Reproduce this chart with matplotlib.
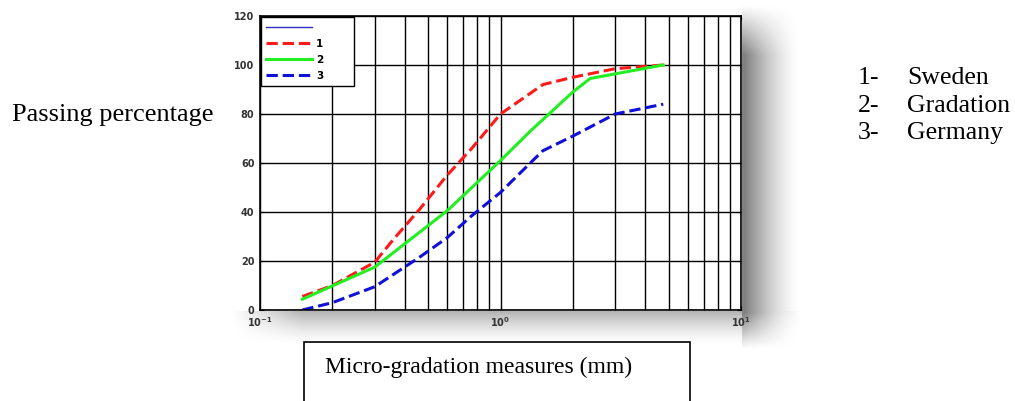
# Sieve curves of the micro-gradation: Sweden, gradation band and Germany
import matplotlib.pyplot as plt
from matplotlib.lines import Line2D
from matplotlib.patches import Rectangle
import numpy as np

# values (sieve size in mm, passing in %)
size_1 = [0.15, 0.2, 0.3, 0.36, 0.46, 0.6, 0.76, 1.0, 1.5, 2.0, 3.0, 4.75]
sweden = [5.5, 10, 19.5, 29, 41, 55, 66, 80, 92, 95, 98.5, 100]
size_2 = [0.15, 0.3, 0.6, 1.0, 1.33, 2.0, 2.36, 4.75]
gradation = [4.4, 17.5, 40.5, 61, 73, 89, 94.5, 100]
size_3 = [0.15, 0.2, 0.3, 0.46, 0.6, 0.76, 1.0, 1.33, 1.5, 2.0, 3.0, 4.75]
germany = [0, 3, 9.5, 21.5, 29.5, 38.5, 48, 60, 65, 71, 80, 84]
y_ticks = [0, 20, 40, 60, 80, 100, 120]
names = ["Sweden", "Gradation", "Germany"]

W, H = 1015, 401
fig = plt.figure(figsize=(W / 100, H / 100), dpi=100)

# soft grey shadow of the pasted picture (right of and below the plot)
bg = fig.add_axes([0, 0, 1, 1])
xx, yy = np.meshgrid(np.arange(W), np.arange(H), indexing='xy')
fx = np.clip(1 - (xx - 744) / 56.0, 0, 1) * (xx >= 742)
fy_top = np.clip((yy - 5) / 50.0, 0, 1)
fy_bot = np.clip(1 - (yy - 312) / 36.0, 0, 1)
right = 0.5 * fx ** 1.5 * fy_top * np.where(yy > 312, fy_bot, 1)
gy = np.clip(1 - (yy - 311) / 34.0, 0, 1) * (yy >= 311)
gx = np.clip((xx - 232) / 70.0, 0, 1) * np.where(xx > 742, fx, 1)
bottom = 0.3 * gy ** 1.5 * gx
dark = np.maximum(right, bottom)
bg.imshow(1 - dark, cmap='gray', vmin=0, vmax=1, extent=(0, W, H, 0),
          aspect='auto', interpolation='bilinear')
bg.set_xlim(0, W)
bg.set_ylim(H, 0)
bg.axis('off')

ax = fig.add_axes([260 / W, 1 - 310 / H, 481 / W, 294 / H])
ax.set_facecolor('white')
l0 = Line2D([], [], c='#3030c0', lw=1)
l1, = ax.plot(size_1, sweden, ls='--', lw=2.2, c='#ff1a1a')
l2, = ax.plot(size_2, gradation, ls='-', lw=2.2, c='#22ee22')
l3, = ax.plot(size_3, germany, ls='--', lw=2.2, c='#1010d8')
ax.set_xscale('log')
ax.set_xlim(0.1, 10)
ax.set_ylim(0, 120)
ax.set_yticks(y_ticks)
ax.grid(which='both', axis='x', color='black', lw=1.0)
ax.grid(which='major', axis='y', color='black', lw=1.0)
ax.tick_params(which='both', direction='in', top=True, right=True,
               labelsize=7, labelcolor='#333333', length=3, pad=4)
ax.tick_params(which='minor', labelbottom=False)
for lab in ax.get_xticklabels() + ax.get_yticklabels():
    lab.set_fontweight('bold')
for s in ax.spines.values():
    s.set_linewidth(1.2)

leg = ax.legend([l0, l1, l2, l3], ['         ', '1', '2', '3'],
                loc='upper left', fontsize=7.5, handlelength=4.4,
                handletextpad=0.4, borderpad=0.5, borderaxespad=0.1,
                labelspacing=0.6, fancybox=False, framealpha=1,
                edgecolor='black', prop={'weight': 'bold', 'size': 7.5})
leg.get_frame().set_linewidth(1.0)

serif = 'Liberation Serif'
fig.text(12 / W, 1 - 115 / H, "Passing percentage", family=serif,
         fontsize=19, va='center', ha='left')

for i, n in enumerate(names):
    y = 1 - (78 + 27.5 * i) / H
    fig.text(858 / W, y, f"{i + 1}-", family=serif, fontsize=18.5,
             va='center')
    fig.text(907 / W, y, n, family=serif, fontsize=18.5, va='center')

fig.add_artist(Rectangle((304 / W, -0.05), 386 / W, 0.05 + 1 - 342 / H,
                         transform=fig.transFigure, fill=False,
                         edgecolor='black', lw=1.2))
fig.text(325 / W, 1 - 367 / H, "Micro-gradation measures (mm)",
         family=serif, fontsize=17, va='center', ha='left')

fig.savefig('out.png', dpi=100)
